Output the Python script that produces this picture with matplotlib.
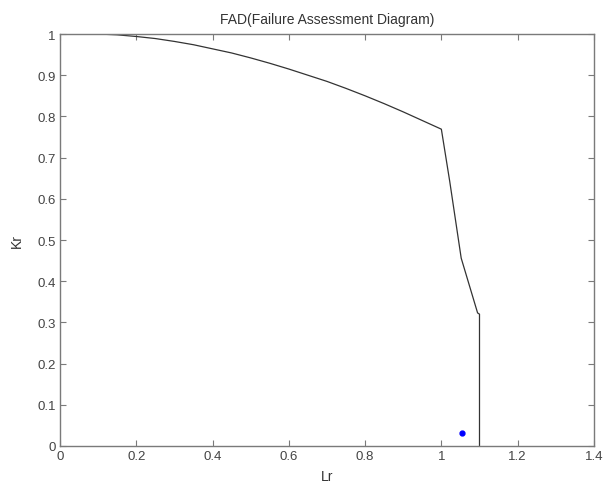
import matplotlib
matplotlib.use("Agg")
import matplotlib.pyplot as plt

# FAD curve
lr_curve = [0.1, 0.15, 0.2, 0.25, 0.3, 0.35, 0.4, 0.45, 0.5, 0.55, 0.6, 0.65,
            0.7, 0.75, 0.8, 0.85, 0.9, 0.95, 1.0,
            1.022, 1.052, 1.095, 1.1, 1.1]
kr_curve = [1.0, 0.998, 0.994, 0.989, 0.982, 0.974, 0.964, 0.954, 0.942, 0.929, 0.915, 0.900,
            0.885, 0.868, 0.850, 0.831, 0.811, 0.790, 0.769,
            0.642, 0.456, 0.323, 0.32, 0.0]

# assessment point
lr_pt = [1.054]
kr_pt = [0.032]

plt.rcParams["font.family"] = ["Liberation Sans", "DejaVu Sans"]

fig = plt.figure(figsize=(6.04, 4.89), dpi=100)
ax = fig.add_axes([0.0993, 0.0859, 0.884, 0.8425])

ax.plot(lr_curve, kr_curve, color="#333333", linewidth=0.9)
ax.plot(lr_pt, kr_pt, "o", color="#0000ff", markersize=3.5)

ax.set_xlim(0, 1.4)
ax.set_ylim(0, 1)
ax.set_xticks([0, 0.2, 0.4, 0.6, 0.8, 1, 1.2, 1.4])
ax.set_xticklabels(["0", "0.2", "0.4", "0.6", "0.8", "1", "1.2", "1.4"])
ax.set_yticks([0, 0.1, 0.2, 0.3, 0.4, 0.5, 0.6, 0.7, 0.8, 0.9, 1])
ax.set_yticklabels(["0", "0.1", "0.2", "0.3", "0.4", "0.5", "0.6", "0.7", "0.8", "0.9", "1"])

for s in ax.spines.values():
    s.set_color("#7a7a7a")
    s.set_linewidth(1.0)
ax.tick_params(direction="in", top=True, right=True, length=4, width=0.8,
               color="#7a7a7a", labelcolor="#444444", labelsize=9.5, pad=3)

ax.set_xlabel("Lr", fontsize=10, color="#333333", labelpad=5)
ax.set_ylabel("Kr", fontsize=10, color="#333333", labelpad=10)
ax.set_title("FAD(Failure Assessment Diagram)", fontsize=10, color="#333333", pad=8)

fig.savefig("out.png", dpi=100)
